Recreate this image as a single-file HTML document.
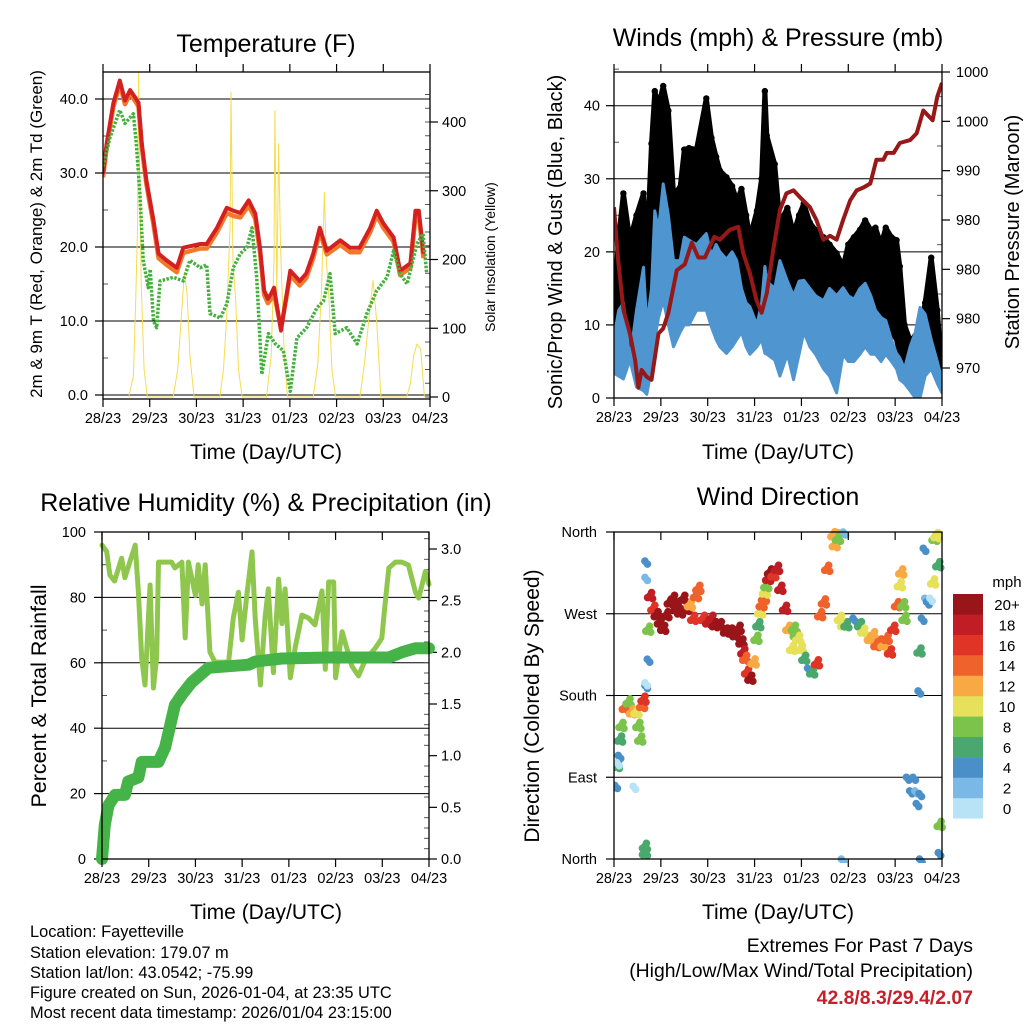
<!DOCTYPE html>
<html><head><meta charset="utf-8"><style>
body{margin:0;background:#fff}
svg{display:block;font-family:"Liberation Sans",sans-serif}
</style></head><body>
<svg id="s" width="1024" height="1024" viewBox="0 0 1024 1024" xmlns="http://www.w3.org/2000/svg">
<g id="layer"></g>
<g font-size="25" text-anchor="middle">
<text x="266" y="52">Temperature (F)</text>
<text x="778" y="46">Winds (mph) &amp; Pressure (mb)</text>
<text x="266" y="511">Relative Humidity (%) &amp; Precipitation (in)</text>
<text x="778" y="505">Wind Direction</text>
</g>
<g font-size="21" text-anchor="middle">
<text x="266" y="459">Time (Day/UTC)</text>
<text x="778" y="459">Time (Day/UTC)</text>
<text x="266" y="919">Time (Day/UTC)</text>
<text x="778" y="919">Time (Day/UTC)</text>
</g>
<text transform="translate(42,234) rotate(-90)" font-size="17" text-anchor="middle">2m &amp; 9m T (Red, Orange) &amp; 2m Td (Green)</text>
<text transform="translate(495,257) rotate(-90)" font-size="14" text-anchor="middle">Solar Insolation (Yellow)</text>
<text transform="translate(562,242) rotate(-90)" font-size="20" text-anchor="middle">Sonic/Prop Wind &amp; Gust (Blue, Black)</text>
<text transform="translate(1019,232) rotate(-90)" font-size="20" text-anchor="middle">Station Pressure (Maroon)</text>
<text transform="translate(46,696) rotate(-90)" font-size="21.5" text-anchor="middle">Percent &amp; Total Rainfall</text>
<text transform="translate(539,706) rotate(-90)" font-size="21" text-anchor="middle">Direction (Colored By Speed)</text>
<g font-size="16.4">
<text x="30" y="937">Location: Fayetteville</text>
<text x="30" y="958">Station elevation: 179.07 m</text>
<text x="30" y="978">Station lat/lon: 43.0542; -75.99</text>
<text x="30" y="998">Figure created on Sun, 2026-01-04, at 23:35 UTC</text>
<text x="30" y="1018">Most recent data timestamp: 2026/01/04 23:15:00</text>
</g>
<g font-size="19.4" text-anchor="end">
<text x="973" y="952">Extremes For Past 7 Days</text>
<text x="973" y="977">(High/Low/Max Wind/Total Precipitation)</text>
<text x="973" y="1004" fill="#c8202a" font-weight="bold">42.8/8.3/29.4/2.07</text>
</g>
</svg>
<script>
const dayLabels=["28/23","29/23","30/23","31/23","01/23","02/23","03/23","04/23"];
// Temperature (x in days, value F)
const tempT=[0,0.08,0.22,0.36,0.47,0.58,0.69,0.76,0.83,0.93,1.08,1.19,1.36,1.58,1.72,2.08,2.22,2.44,2.65,2.79,2.94,3.12,3.26,3.36,3.45,3.53,3.6,3.66,3.81,4.01,4.21,4.35,4.5,4.64,4.79,5.08,5.29,5.49,5.72,5.86,6.0,6.22,6.36,6.58,6.69,6.76,6.86];
const tempRed=[29.9,34,39.4,42.5,39.8,41.2,40.2,39.5,34,29,23.6,19.1,18.2,17.2,19.9,20.4,20.4,22.6,25.3,24.9,24.6,26.3,24.5,19.9,14.1,13,13.7,14.5,8.7,16.8,15.4,16.4,19.1,22.6,19.5,20.9,19.9,19.9,22.6,24.9,23.2,21.3,16.8,17.8,24.9,24.9,19.1];
const tempOrange=[29.4,33.5,38.9,42,39.3,40.7,39.7,39,33.5,28.5,23,18.5,17.6,16.6,19.2,19.8,19.8,22,24.6,24.2,24,25.6,23.8,19.3,13.5,12.4,13,13.8,9,16.2,14.8,15.8,18.5,22,19,20.3,19.3,19.3,22,24.3,22.6,20.7,16.2,17.2,24.2,24.2,18.5];
const tdT=[0,0.15,0.36,0.47,0.65,0.72,0.79,0.86,0.97,1.01,1.08,1.15,1.22,1.51,1.72,1.86,2.08,2.22,2.29,2.51,2.65,2.79,2.94,3.08,3.19,3.29,3.4,3.54,3.69,3.86,4.01,4.15,4.36,4.58,4.72,4.86,4.97,5.22,5.44,5.65,5.86,6.08,6.22,6.36,6.51,6.72,6.85,6.93];
const tdVal=[30.9,34.8,38.5,36.7,38,33.5,27.2,18.2,14.5,17,10,9.1,15.4,15.9,15.4,18.2,17.2,17.6,11,10.4,12.3,17.2,19.1,19.9,22.6,15.9,2.8,8.3,6.9,6,0.5,7.7,9.1,11.8,12.7,16.4,8.3,9.1,6.9,11,14.1,15.9,19.5,16.4,15,20.4,21.8,16.4];
const solarT=[0.55,0.65,0.7,0.74,0.76,0.79,0.82,0.88,0.95,1.5,1.6,1.68,1.74,1.8,1.86,1.95,2.5,2.58,2.65,2.72,2.74,2.78,2.84,2.9,2.98,3.5,3.6,3.66,3.68,3.72,3.76,3.8,3.88,3.95,4.5,4.6,4.68,4.74,4.78,4.84,4.9,4.98,5.5,5.6,5.7,5.78,5.86,5.95,6.5,6.58,6.65,6.72,6.8,6.88];
const solarVal=[0,30,140,250,473,300,160,40,0,0,40,120,180,150,60,0,0,40,120,250,444,200,140,40,0,0,60,200,417,150,369,220,60,0,0,50,160,298,200,140,40,0,0,50,120,170,110,0,0,20,60,77,70,0];
// Winds: envelopes (mph) and pressure (mb)
const windT=[0,0.1,0.2,0.34,0.48,0.63,0.7,0.8,0.87,0.95,1.05,1.16,1.27,1.41,1.5,1.6,1.76,1.97,2.08,2.18,2.26,2.4,2.52,2.62,2.72,2.82,2.9,3.05,3.15,3.22,3.26,3.43,3.54,3.7,3.83,3.95,4.05,4.18,4.3,4.47,4.6,4.75,4.89,5.0,5.12,5.25,5.36,5.48,5.58,5.7,5.8,5.92,6.03,6.1,6.2,6.32,6.43,6.53,6.64,6.77,6.9,7.0];
const gustHigh=[13.4,22,28,21.6,25,28,20,34.8,42,40,42.7,39.3,28,28.8,34,34.2,34,41,35.6,33,31.1,30.2,29,27,28.6,25,22,25.6,30,42,35.9,32,24,26,22.5,25,26.6,24,23,22,21,19.8,18,21,22,23,24.3,23,23.3,21,23.3,22,21.6,18,10,7.9,8.5,9.3,13,19.2,12,3.4];
const gustLow=[6,6,5,5.2,4,4,6,10,15,16,16,14,11,12,14,17,18,15,13,12,11,10,11,11,10,10,9,10,12,14,14,10,9,12,10,11,12,11,11,10,8,8,8,9,10,10,10,10,10,9,9,9,8,6,4,4,4,4,5,6,4,2];
const windHigh=[8.3,12,13,5.2,12,17.9,10,15,25.6,23,29.3,25,18.8,18.8,22,21.6,21,22.5,19.5,21,20,19,20,18.8,15,13,12.5,10,13,18,16,15,18.8,16,14,16,16.1,15,14,13.3,15,14,15.1,14,13.5,15,15.7,14,12,11,10.6,8,6.1,5.5,4,7,9,12.4,11.5,8,5,2.5];
const windLow=[3.4,3,2.6,5.2,1.5,1,0.5,4,8,11,13.4,10,7,9,10,10,12,12,9.7,8,7,6.1,7,8,9,7,6,7,8,6.1,6,5.2,3,6,2.5,6,9,7,6,4,3,0.7,6,5,5,6,7,6,6,5,6,5,4,2.5,2,1,0,0,3,4,2,0.7];
const presT=[0,0.09,0.2,0.34,0.45,0.52,0.59,0.7,0.8,0.95,1.05,1.16,1.34,1.51,1.66,1.8,1.94,2.14,2.26,2.47,2.65,2.76,2.9,3.04,3.15,3.26,3.4,3.54,3.68,3.83,3.97,4.18,4.32,4.47,4.61,4.75,4.89,5.04,5.18,5.33,5.47,5.6,5.75,5.82,5.97,6.1,6.32,6.46,6.6,6.8,6.9,7.0];
const presVal=[986.3,980.9,975.9,973.5,970.8,968,969.8,969.1,968.8,973.5,974,975.6,979.9,980.5,982.7,981.2,981.2,983.3,983,984,984.3,981.6,979.6,976.9,975.6,977.6,982,986,987.7,988,987.3,986.3,985,983,983.4,983,985,987,988,988.3,988.7,991.1,991.1,991.8,991.8,992.8,993.1,993.8,996.1,995.1,997.5,998.9];
const presTicks=[970,975,980,985,990,995,1000];
const presTickLabels=["970","980","980","980","990","1000","1000"];
// RH (%) and precipitation (in)
const rhT=[0,0.1,0.17,0.27,0.42,0.49,0.6,0.71,0.78,0.85,0.92,1.03,1.1,1.17,1.21,1.49,1.56,1.71,1.78,1.85,2.0,2.06,2.14,2.21,2.31,2.42,2.71,2.81,2.92,3.0,3.1,3.21,3.28,3.39,3.49,3.56,3.67,3.78,3.85,3.92,4.03,4.14,4.28,4.42,4.56,4.71,4.78,4.85,4.96,5.0,5.14,5.35,5.49,5.64,5.85,5.99,6.06,6.14,6.28,6.42,6.56,6.71,6.78,6.92,7.0];
const rhVal=[96,94,86.8,85,92,86,91,96,81.6,61.5,53.2,83.8,52.3,62,90.8,90.8,89,90.8,67.6,90.8,80.6,90,78,90,63.3,60.2,60.2,73.7,81.6,67,80.6,93.9,73.7,53.2,73.7,82.6,57,85.6,72,82.6,55.4,65,74.6,73.7,71.6,82,58,84.7,84.7,55.4,69.5,59,56,61,64.5,67.5,78,89,90.8,90.8,89.9,81.6,79.8,87.9,84];
const rainT=[0,0.06,0.14,0.28,0.49,0.56,0.78,0.85,1.21,1.35,1.56,1.71,1.92,2.28,3.14,3.28,3.85,4.85,6.14,6.42,6.71,7.0];
const rainVal=[0,0.33,0.52,0.62,0.62,0.75,0.79,0.94,0.94,1.08,1.49,1.59,1.71,1.85,1.88,1.91,1.94,1.95,1.95,2.0,2.04,2.04];
// Wind direction scatter: time (days), direction (deg), speed (mph)
const dirT=[0.02,0.06,0.09,0.13,0.16,0.23,0.31,0.38,0.48,0.52,0.56,0.6,0.63,0.66,0.71,0.73,0.77,0.84,0.91,0.98,1.05,1.12,1.19,1.26,1.34,1.41,1.48,1.55,1.62,1.69,1.75,1.8,1.9,2.01,2.08,2.15,2.26,2.39,2.49,2.59,2.66,2.72,2.76,2.8,2.84,2.91,2.98,3.04,3.08,3.12,3.15,3.2,3.22,3.25,3.29,3.33,3.4,3.48,3.55,3.65,3.72,3.8,3.84,3.88,3.93,3.99,4.06,4.13,4.23,4.33,4.4,4.48,4.55,4.68,4.71,4.75,4.78,4.82,4.89,4.96,5.1,5.25,5.32,5.46,5.53,5.6,5.68,5.75,5.82,5.89,5.96,6.04,6.1,6.13,6.17,6.2,6.24,6.31,6.38,6.42,6.45,6.49,6.52,6.56,6.6,6.63,6.67,6.74,6.81,6.84,6.88,6.92,6.95,6.92,4.85,4.89,0.66,0.66,0.66,0.66,0.66,0.06,0.41,6.52,6.51];
const dirVal=[81,103,114,132,147,167,173,162,162,147,132,169,176,191,220,253,290,276,269,261,254,269,283,287,276,272,287,276,280,265,290,298,265,261,265,258,258,251,251,247,254,239,228,221,206,199,217,243,258,272,280,287,294,301,309,316,313,320,298,276,254,232,254,247,243,232,221,210,206,216,269,283,320,357,346,356,353,265,258,258,265,258,251,243,247,236,239,236,243,228,254,280,302,316,280,265,90,75,90,75,61,185,229,265,342,287,283,287,305,353,356,324,38,7,0,360,7,14,328,310,194,106,80,0,72,210];
const dirSpd=[4,6,4,6,8,14,8,12,10,8,8,14,16,4,4,8,18,16,20,20,20,20,20,20,20,20,20,20,12,16,14,14,16,18,18,20,20,20,20,20,20,20,18,14,16,20,12,8,6,10,14,14,10,8,18,20,16,18,18,18,12,10,8,8,10,10,6,4,6,16,14,14,14,12,12,12,8,10,10,6,4,6,10,12,12,14,14,12,14,16,16,14,10,12,8,8,4,4,4,2,4,4,6,4,4,2,4,0,10,8,10,6,8,4,2,2,6,6,4,2,0,0,0,4,4,4,0];
const spdColors=["#b8e3f7","#7ab8e5","#4a8fc8","#4aa86e","#7cc34b","#e6e05a","#f9a943","#f0622c","#e03427","#c01d24","#9a1519"];
const spdLabels=["0","2","4","6","8","10","12","14","16","18","20+"];

const NS="http://www.w3.org/2000/svg";
const layer=document.getElementById('layer');
function mk(tag,attrs,parent){const e=document.createElementNS(NS,tag);for(const k in attrs)e.setAttribute(k,attrs[k]);(parent||layer).appendChild(e);return e;}
function lin(d0,d1,r0,r1){return v=>r0+(v-d0)*(r1-r0)/(d1-d0);}
function linePath(xs,ys,fx,fy){return xs.map((t,i)=>(i?'L':'M')+fx(t).toFixed(1)+','+fy(ys[i]).toFixed(1)).join('');}
function band(xs,hi,lo,fx,fy){let d=xs.map((t,i)=>(i?'L':'M')+fx(t).toFixed(1)+','+fy(hi[i]).toFixed(1)).join('');for(let i=xs.length-1;i>=0;i--)d+='L'+fx(xs[i]).toFixed(1)+','+fy(lo[i]).toFixed(1);return d+'Z';}

function frame(g,L,R,T,B,fx,topOut){
  const r=mk('rect',{x:L,y:T,width:R-L,height:B-T,fill:'none',stroke:'#000','stroke-width':1.3},g);
  
  
  dayLabels.forEach((lab,i)=>{
    const x=fx(i);
    const t1=mk('line',{x1:x,x2:x,y1:B,y2:B+8,stroke:'#000','stroke-width':1.2},g);
    
    
    const t2=mk('line',{x1:x,x2:x,y1:T,y2:topOut?T-8:T+8,stroke:'#000','stroke-width':1.2},g);
    
    
    const tx=mk('text',{x:x,y:B+24,'font-size':14.5,'text-anchor':'middle'},g);
    tx.textContent=lab;
    
    
  });
}
function yTicks(g,vals,labs,fy,L,R,side,grid,xl,minor){
  vals.forEach((v,i)=>{
    const y=fy(v);
    if(grid){const gl=mk('line',{x1:L,x2:R,y1:y,y2:y,stroke:'#000','stroke-width':1},g);
      
      }
    const x0=side==='left'?L:R;
    const tk=mk('line',{x1:x0,x2:side==='left'?x0-8:x0+8,y1:y,y2:y,stroke:'#000','stroke-width':1.2},g);
    
    
    const tx=mk('text',{x:xl,y:y+5,'font-size':14.5,'text-anchor':side==='left'?'end':'start'},g);
    tx.textContent=labs[i];
    
    
  });
  if(minor){minor.forEach(v=>{const y=fy(v);const x0=side==='left'?L:R;
    const m=mk('line',{x1:x0,x2:side==='left'?x0+5:x0-5,y1:y,y2:y,stroke:'#555','stroke-width':1},g);
    
    });}
}

// Panel 1 Temperature
(function(){
  const g=mk('g',{});
  const L=103,R=430,T=72,B=399;
  const fx=lin(0,7,L,R),fy=lin(0,40,395,99),fs=lin(0,400,397,122);
  const cp=mk('clipPath',{id:'c1'},g);mk('rect',{x:L,y:T,width:R-L,height:B-T},cp);
  const tv=[0,10,20,30,40];
  yTicks(g,tv,["0.0","10.0","20.0","30.0","40.0"],fy,L,R,'left',true,88,[5,15,25,35]);
  const sv=[0,100,200,300,400],smin=[];for(let i=0;i<=450;i+=20)smin.push(i);
  yTicks(g,sv,["0","100","200","300","400"],fs,L,R,'right',false,442,smin);
  const pg=mk('g',{'clip-path':'url(#c1)'},g);
  const s=mk('path',{d:linePath(solarT,solarVal,fx,fs),fill:'none',stroke:'#f5dc50','stroke-width':1},pg);
  
  const o=mk('path',{d:linePath(tempT,tempOrange,fx,fy),fill:'none',stroke:'#f07a2a','stroke-width':4.5,'stroke-linejoin':'round'},pg);
  
  const r=mk('path',{d:linePath(tempT,tempRed,fx,fy),fill:'none',stroke:'#d42020','stroke-width':4,'stroke-linejoin':'round'},pg);
  
  const d=mk('path',{d:linePath(tdT,tdVal,fx,fy),fill:'none',stroke:'#46b03e','stroke-width':3.5,'stroke-dasharray':'2.5 1.5','stroke-linejoin':'round'},pg);
  
  frame(g,L,R,T,B,fx,true);
})();

// Panel 2 Winds & Pressure
(function(){
  const g=mk('g',{});
  const L=614,R=942,T=72,B=398;
  const fx=lin(0,7,L,R),fy=lin(0,40,398,105.7),fp=lin(970,1000,368,72);
  const cp=mk('clipPath',{id:'c2'},g);mk('rect',{x:L,y:T,width:R-L,height:B-T},cp);
  yTicks(g,[0,10,20,30,40],["0","10","20","30","40"],fy,L,R,'left',true,600,[5,15,25,35,45]);
  yTicks(g,presTicks,presTickLabels,fp,L,R,'right',false,956,[972.5,977.5,982.5,987.5,992.5,997.5]);
  const pg=mk('g',{'clip-path':'url(#c2)'},g);
  const gb=mk('path',{d:band(windT,gustHigh,gustLow,fx,fy),fill:'#000',stroke:'#000','stroke-width':5,'stroke-linejoin':'round'},pg);
  
  windT.forEach((t,i)=>{const c=mk('circle',{cx:fx(t),cy:fy(gustHigh[i]),r:3.2,fill:'#000'},pg);
    });
  const wb=mk('path',{d:band(windT,windHigh,windLow,fx,fy),fill:'#4f95d0',stroke:'#4f95d0','stroke-width':3,'stroke-linejoin':'round'},pg);
  
  const p=mk('path',{d:linePath(presT,presVal,fx,fp),fill:'none',stroke:'#961818','stroke-width':4,'stroke-linejoin':'round'},pg);
  
  frame(g,L,R,T,B,fx,true);
})();

// Panel 3 RH & Precip
(function(){
  const g=mk('g',{});
  const L=102,R=429,T=532,B=859;
  const fx=lin(0,7,L,R),fy=lin(0,100,859,532),fr=lin(0,3,859,549);
  const cp=mk('clipPath',{id:'c3'},g);mk('rect',{x:L-7,y:T,width:R-L+14,height:B-T+7},cp);
  yTicks(g,[0,20,40,60,80,100],["0","20","40","60","80","100"],fy,L,R,'left',true,86,[10,30,50,70,90]);
  const rm=[];for(let i=1;i<32;i++)if(i%5)rm.push(i/10);
  yTicks(g,[0,0.5,1,1.5,2,2.5,3],["0.0","0.5","1.0","1.5","2.0","2.5","3.0"],fr,L,R,'right',false,441,rm);
  const pg=mk('g',{'clip-path':'url(#c3)'},g);
  const h=mk('path',{d:linePath(rhT,rhVal,fx,fy),fill:'none',stroke:'#8fc74e','stroke-width':5,'stroke-linejoin':'round','stroke-linecap':'round'},pg);
  
  const rn=mk('path',{d:linePath(rainT,rainVal,fx,fr),fill:'none',stroke:'#45b347','stroke-width':12,'stroke-linejoin':'round','stroke-linecap':'round'},pg);
  
  frame(g,L,R,T,B,fx,false);
})();

// Panel 4 Wind direction
(function(){
  const g=mk('g',{});
  const L=614,R=942,T=532,B=859;
  const fx=lin(0,7,L,R),fy=lin(0,360,859,532);
  const cp=mk('clipPath',{id:'c4'},g);mk('rect',{x:L,y:T-4,width:R-L+4,height:B-T+8},cp);
  yTicks(g,[0,90,180,270,360],["North","East","South","West","North"],fy,L,R,'left',true,597,null);
  const pg=mk('g',{'clip-path':'url(#c4)'},g);
  const offs=[[0,0],[2.5,3],[-2.5,2],[1.5,-3]];
  dirT.forEach((t,i)=>{
    const k=Math.min(10,Math.round(dirSpd[i]/2));
    const n=k>=3?4:2;
    for(let j=0;j<n;j++){
      const c=mk('circle',{cx:fx(t)+offs[j][0],cy:fy(dirVal[i])+offs[j][1],r:3.8,fill:spdColors[k]},pg);
      
      
    }
  });
  frame(g,L,R,T,B,fx,false);
  // colorbar
  const cb=mk('g',{});
  spdColors.forEach((c,i)=>{
    const y=594+(10-i)*20.4;
    const r=mk('rect',{x:953,y:y,width:30,height:20.6,fill:c},cb);
    
    const tx=mk('text',{x:1007,y:y+16,'font-size':15,'text-anchor':'middle'},cb);
    tx.textContent=spdLabels[i];
    
  });
  const u=mk('text',{x:1007,y:587,'font-size':15,'text-anchor':'middle'},cb);u.textContent='mph';
  
})();
</script>
</body></html>
